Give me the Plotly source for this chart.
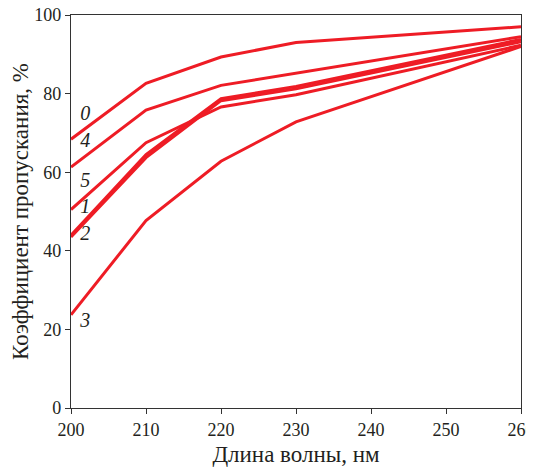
import plotly.graph_objects as go

wavelength = [200, 210, 220, 230, 260]
s0 = [68.4, 82.6, 89.3, 93.0, 97.0]
s4 = [61.3, 75.8, 82.1, 85.2, 94.5]
s5 = [50.5, 67.5, 76.6, 79.7, 92.3]
s1 = [44.0, 64.5, 78.7, 81.8, 93.8]
s2 = [43.5, 63.7, 78.2, 81.2, 93.2]
s3 = [23.7, 47.7, 62.8, 72.8, 92.0]
series = [s0, s4, s5, s1, s2, s3]

label_text = ["0", "4", "5", "1", "2", "3"]
label_x = [201.9, 201.9, 201.9, 201.9, 201.9, 201.9]
label_y = [74.6, 67.7, 57.5, 50.9, 43.9, 21.9]

x_ticks = [200, 210, 220, 230, 240, 250, 260]
y_ticks = [0, 20, 40, 60, 80, 100]

RED = "#ee1c25"
FONT = "Times New Roman"
TXT = "#231f20"

fig = go.Figure()
for s in series:
    fig.add_trace(go.Scatter(x=wavelength, y=s, mode="lines",
                             line=dict(color=RED, width=3), showlegend=False,
                             hoverinfo="skip"))

fig.add_trace(go.Scatter(x=label_x, y=label_y, mode="text",
                         text=["<i>" + t + "</i>" for t in label_text],
                         textfont=dict(family=FONT, size=20, color=TXT),
                         showlegend=False, hoverinfo="skip"))

fig.update_layout(
    width=534, height=467,
    margin=dict(l=63, r=21, t=7, b=67, autoexpand=False),
    paper_bgcolor="white", plot_bgcolor="white",
    font=dict(family=FONT, color=TXT, size=18),
)
fig.update_xaxes(range=[200, 260], tickvals=x_ticks, ticks="outside", ticklen=5,
                 tickcolor="#333", showline=True, linecolor="#333", linewidth=1.2,
                 mirror=True, showgrid=False, zeroline=False, automargin=False,
                 ticklabeloverflow="allow",
                 tickfont=dict(family=FONT, size=18, color=TXT),
                 title=dict(text="Длина волны, нм", font=dict(family=FONT, size=23, color=TXT),
                            standoff=7))
fig.update_yaxes(range=[0, 100], tickvals=y_ticks, ticks="outside", ticklen=5,
                 tickcolor="#333", showline=True, linecolor="#333", linewidth=1.2,
                 mirror=True, showgrid=False, zeroline=False, automargin=False,
                 ticklabeloverflow="allow",
                 tickfont=dict(family=FONT, size=18, color=TXT),
                 title=dict(text="Коэффициент пропускания, %",
                            font=dict(family=FONT, size=23, color=TXT), standoff=10))

fig.write_html("out.html")
